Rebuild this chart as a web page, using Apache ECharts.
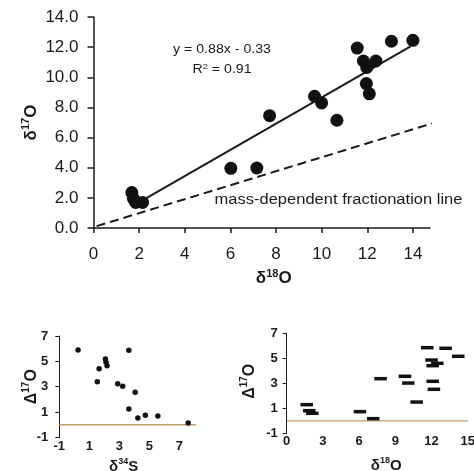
<!DOCTYPE html>
<html>
<head>
<meta charset="utf-8">
<script src="https://cdn.jsdelivr.net/npm/echarts@6/dist/echarts.min.js"></script>
<style>
html, body { margin: 0; padding: 0; background: #fff; }
#chart { width: 474px; height: 471px; }
</style>
</head>
<body>
<div id="chart"></div>
<script>
// top panel: d18O vs d17O
const mainX = [1.68, 1.75, 1.85, 2.15, 6.02, 7.16, 7.72, 9.69, 10.0, 10.67, 11.56, 11.83, 11.98, 12.38, 11.96, 12.09, 13.06, 14.0];
const mainY = [2.35, 1.95, 1.7, 1.7, 3.96, 3.98, 7.45, 8.74, 8.3, 7.15, 11.94, 11.08, 10.65, 11.08, 9.58, 8.9, 12.39, 12.45];
const fitX = [2.05, 13.9];
const fitY = [1.75, 12.05];
const mdfX = [-0.45, 15.3];
const mdfY = [-0.15, 7.15];
const mainXTicks = [0, 2, 4, 6, 8, 10, 12, 14];

// lower left: d34S vs D17O
const sulfX = [0.25, 1.65, 1.53, 2.07, 2.11, 2.18, 2.89, 3.22, 3.63, 3.63, 4.05, 4.23, 4.73, 5.56, 7.58];
const sulfY = [5.9, 4.42, 3.39, 5.19, 4.92, 4.66, 3.24, 3.03, 5.87, 1.24, 2.56, 0.53, 0.74, 0.69, 0.13];
const leftXTicks = [-1, 1, 3, 5, 7];
const leftYTicks = [-1, 1, 3, 5, 7];
const leftZeroX = [-1, 8.1];

// lower right: d18O vs D17O
const oxyX = [1.66, 1.87, 2.12, 6.07, 7.17, 7.78, 9.8, 10.08, 10.77, 11.65, 13.17, 12.0, 12.48, 12.1, 14.22, 12.1, 12.2];
const oxyY = [1.29, 0.81, 0.6, 0.73, 0.17, 3.37, 3.56, 3.02, 1.5, 5.85, 5.8, 4.86, 4.6, 4.41, 5.16, 3.16, 2.52];
const rightXTicks = [0, 3, 6, 9, 12, 15];
const rightYTicks = [-1, 1, 3, 5, 7];
const rightZeroX = [0, 15];

const zeroY = [0, 0];

const font = 'Liberation Sans, Arial, sans-serif';
const ink = '#1a1a1a';
const zeroColor = '#c29a6b';

function pairs(xs, ys) {
  return xs.map((x, i) => [x, ys[i]]);
}

function nameRich(size) {
  return {
    a: { fontSize: size, fontWeight: 'bold', color: ink, fontFamily: font, lineHeight: size + 4 },
    s: { fontSize: Math.round(size * 0.62), fontWeight: 'bold', color: ink, fontFamily: font, verticalAlign: 'top', lineHeight: Math.round(size * 0.62) }
  };
}

function box(left, right, top, bottom) {
  return { left: left, right: right, top: top, bottom: bottom, outerBoundsMode: 'none' };
}

const chart = echarts.init(document.getElementById('chart'));

chart.setOption({
  animation: false,
  backgroundColor: '#fff',
  grid: [
    box(93.5, 44, 17, 243),
    box(59.3, 278, 336, 33.6),
    box(286.7, 6.3, 333.3, 37.7)
  ],
  xAxis: [
    {
      type: 'value', gridIndex: 0, min: 0, max: 14.75,
      axisLine: { onZero: false, lineStyle: { color: ink, width: 1.5 } },
      axisTick: { customValues: mainXTicks, length: 5, lineStyle: { color: ink, width: 1.5 } },
      axisLabel: { customValues: mainXTicks, fontSize: 17, color: ink, fontFamily: font, margin: 18 },
      splitLine: { show: false },
      name: '{a|δ}{s|18}{a|O}', nameLocation: 'middle', nameGap: 40, nameMoveOverlap: false,
      nameTextStyle: { rich: nameRich(17), padding: [0, 0, 0, 24] }
    },
    {
      type: 'value', gridIndex: 1, min: -1, max: 8.1,
      axisLine: { show: false, onZero: false },
      axisTick: { show: false },
      axisLabel: { customValues: leftXTicks, fontSize: 13, fontWeight: 'bold', color: ink, fontFamily: font, margin: 3 },
      splitLine: { show: false },
      name: '{a|δ}{s|34}{a|S}', nameLocation: 'middle', nameGap: 20, nameMoveOverlap: false,
      nameTextStyle: { rich: nameRich(15), padding: [0, 8, 0, 0] }
    },
    {
      type: 'value', gridIndex: 2, min: 0, max: 15,
      axisLine: { show: false, onZero: false },
      axisTick: { show: false },
      axisLabel: { customValues: rightXTicks, fontSize: 13, fontWeight: 'bold', color: ink, fontFamily: font, margin: 2 },
      splitLine: { show: false },
      name: '{a|δ}{s|18}{a|O}', nameLocation: 'middle', nameGap: 23, nameMoveOverlap: false,
      nameTextStyle: { rich: nameRich(15), padding: [0, 0, 0, 18] }
    }
  ],
  yAxis: [
    {
      type: 'value', gridIndex: 0, min: 0, max: 14, interval: 2,
      axisLine: { show: true, onZero: false, lineStyle: { color: ink, width: 1.5 } },
      axisTick: { length: 6, lineStyle: { color: ink, width: 1.5 } },
      axisLabel: { fontSize: 17, color: ink, fontFamily: font, margin: 15, formatter: v => v.toFixed(1) },
      splitLine: { show: false },
      name: '{a|δ}{s|17}{a|O}', nameLocation: 'middle', nameGap: 52, nameRotate: 90, nameMoveOverlap: false,
      nameTextStyle: { rich: nameRich(17) }
    },
    {
      type: 'value', gridIndex: 1, min: -1, max: 7,
      axisLine: { show: true, onZero: false, lineStyle: { color: ink } },
      axisTick: { customValues: leftYTicks, length: 4, lineStyle: { color: ink } },
      axisLabel: { customValues: leftYTicks, fontSize: 13, fontWeight: 'bold', color: ink, fontFamily: font, margin: 11 },
      splitLine: { show: false },
      name: '{a|Δ}{s|17}{a|O}', nameLocation: 'middle', nameGap: 18, nameRotate: 90, nameMoveOverlap: false,
      nameTextStyle: { rich: nameRich(16) }
    },
    {
      type: 'value', gridIndex: 2, min: -1, max: 7,
      axisLine: { show: true, onZero: false, lineStyle: { color: ink } },
      axisTick: { customValues: rightYTicks, length: 4, lineStyle: { color: ink } },
      axisLabel: { customValues: rightYTicks, fontSize: 13, fontWeight: 'bold', color: ink, fontFamily: font, margin: 9 },
      splitLine: { show: false },
      name: '{a|Δ}{s|17}{a|O}', nameLocation: 'middle', nameGap: 27, nameRotate: 90, nameMoveOverlap: false,
      nameTextStyle: { rich: nameRich(16), padding: [0, 0, 0, 4] }
    }
  ],
  graphic: [
    {
      type: 'text', x: 222, y: 50, scaleX: 1.18,
      style: { text: 'y = 0.88x - 0.33', fontSize: 12, fontFamily: font, fill: ink, align: 'center', verticalAlign: 'middle' }
    },
    {
      type: 'text', x: 222, y: 70, scaleX: 1.18,
      style: {
        text: '{a|R}{s|2}{a| = 0.91}', align: 'center', verticalAlign: 'middle',
        rich: {
          a: { fontSize: 12, fontFamily: font, fill: ink, lineHeight: 15 },
          s: { fontSize: 8, fontFamily: font, fill: ink, verticalAlign: 'top', lineHeight: 8 }
        }
      }
    },
    {
      type: 'text', x: 338.5, y: 200, scaleX: 1.18,
      style: { text: 'mass-dependent fractionation line', fontSize: 14, fontFamily: font, fill: ink, align: 'center', verticalAlign: 'middle' }
    }
  ],
  series: [
    {
      type: 'line', xAxisIndex: 0, yAxisIndex: 0, data: pairs(mdfX, mdfY), clip: false,
      symbol: 'none', lineStyle: { color: ink, width: 2, type: [9, 5] }, z: 2
    },
    {
      type: 'line', xAxisIndex: 0, yAxisIndex: 0, data: pairs(fitX, fitY),
      symbol: 'none', lineStyle: { color: ink, width: 2 }, z: 2
    },
    {
      type: 'scatter', xAxisIndex: 0, yAxisIndex: 0, data: pairs(mainX, mainY),
      symbolSize: 13, itemStyle: { color: '#111', opacity: 1 }, z: 3
    },
    {
      type: 'line', xAxisIndex: 1, yAxisIndex: 1, data: pairs(leftZeroX, zeroY), silent: true,
      symbol: 'none', lineStyle: { color: zeroColor, width: 1.3 }, z: 1
    },
    {
      type: 'line', xAxisIndex: 2, yAxisIndex: 2, data: pairs(rightZeroX, zeroY), silent: true,
      symbol: 'none', lineStyle: { color: zeroColor, width: 1.3 }, z: 1
    },
    {
      type: 'scatter', xAxisIndex: 1, yAxisIndex: 1, data: pairs(sulfX, sulfY),
      symbolSize: 5.5, itemStyle: { color: '#111', opacity: 1 }, z: 3
    },
    {
      type: 'scatter', xAxisIndex: 2, yAxisIndex: 2, data: pairs(oxyX, oxyY),
      symbol: 'rect', symbolSize: [12.5, 3.5], itemStyle: { color: '#111', opacity: 1 }, z: 3
    }
  ]
});
</script>
</body>
</html>
